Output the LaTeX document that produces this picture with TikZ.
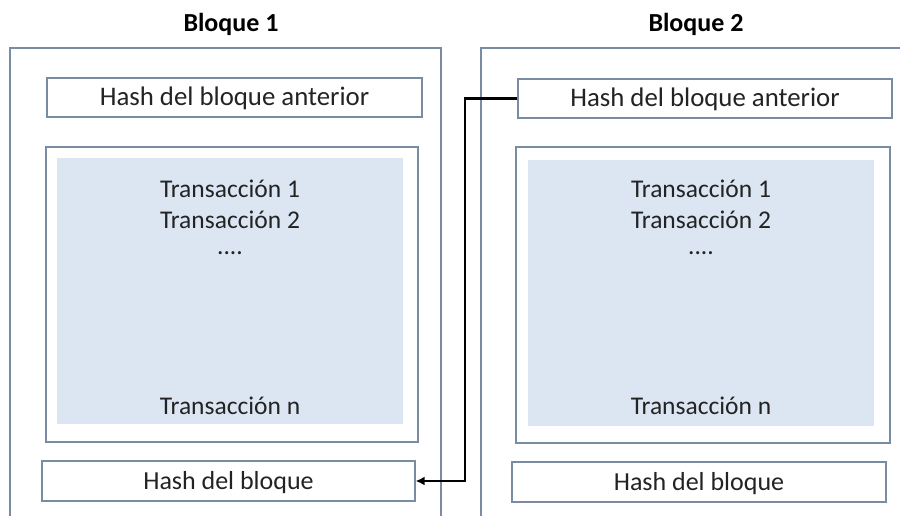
\documentclass[tikz,border=0pt]{standalone}
\usepackage{fontspec}
\setmainfont{Carlito}
\usetikzlibrary{arrows.meta}
\definecolor{frame}{RGB}{122,140,162}
\definecolor{txfill}{RGB}{220,230,242}
\definecolor{ink}{RGB}{35,35,35}
\tikzset{
  outerbox/.style={draw=frame, line width=1.3pt, fill=white, rectangle, inner sep=0pt},
  fieldbox/.style={draw=frame, line width=1.3pt, fill=white, rectangle, inner sep=0pt,
    font=\fontsize{26}{30}\selectfont, text=ink, text height=17pt, text depth=0pt},
  widefield/.style={fieldbox, font=\fontsize{26.8}{30}\selectfont},
  listbox/.style={draw=frame, line width=1.3pt, fill=white, rectangle, inner sep=0pt},
  listfill/.style={fill=txfill, rectangle, inner sep=0pt},
  txline/.style={anchor=base, inner sep=0pt, font=\fontsize{25.5}{30}\selectfont, text=ink},
  title/.style={anchor=base, inner sep=0pt, font=\fontsize{26}{30}\selectfont\bfseries, text=black},
  link/.style={draw=black, line width=2.9pt, -{Latex[length=9pt,width=9pt]}}
}
\begin{document}
\begin{tikzpicture}[x=1pt,y=-1pt]
\useasboundingbox (0,0) rectangle (900,516);
\clip (0,0) rectangle (900,516);

% titles
\node[title] (t1) at (231,32) {Bloque 1};
\node[title] (t2) at (696,32) {Bloque 2};

% block frames
\node[outerbox, minimum width=431pt, minimum height=482pt] (blk1) at (225.5,289) {};
\node[outerbox, minimum width=439pt, minimum height=482pt] (blk2) at (700.5,289) {};

% block 1 contents
\node[widefield, minimum width=375pt, minimum height=39pt] (ha1) at (234.5,97.5) {Hash del bloque anterior};
\node[listbox, minimum width=372pt, minimum height=295pt] (tx1) at (232,294.5) {};
\node[listfill, minimum width=346pt, minimum height=266pt] (tf1) at (230,291) {};
\node[txline] (a1) at (230,197) {Transacción 1};
\node[txline] (a2) at (230,228) {Transacción 2};
\node[txline] (a3) at (230,254) {....};
\node[txline] (an) at (230,414) {Transacción n};
\node[fieldbox, minimum width=373pt, minimum height=40pt] (hb1) at (228.5,481) {Hash del bloque};

% block 2 contents
\node[widefield, minimum width=374pt, minimum height=39pt] (ha2) at (705,98.5) {Hash del bloque anterior};
\node[listbox, minimum width=374pt, minimum height=296pt] (tx2) at (703,295) {};
\node[listfill, minimum width=346pt, minimum height=266pt] (tf2) at (701,293) {};
\node[txline] (b1) at (701,197) {Transacción 1};
\node[txline] (b2) at (701,228) {Transacción 2};
\node[txline] (b3) at (701,254) {....};
\node[txline] (bn) at (701,414) {Transacción n};
\node[fieldbox, minimum width=374pt, minimum height=40pt] (hb2) at (699,482) {Hash del bloque};

% link from the previous-hash field back to block 1's hash
\coordinate (bend) at (465,98.5);
\draw[link] (ha2.west) -- (bend) |- (hb1.east);
\end{tikzpicture}
\end{document}
